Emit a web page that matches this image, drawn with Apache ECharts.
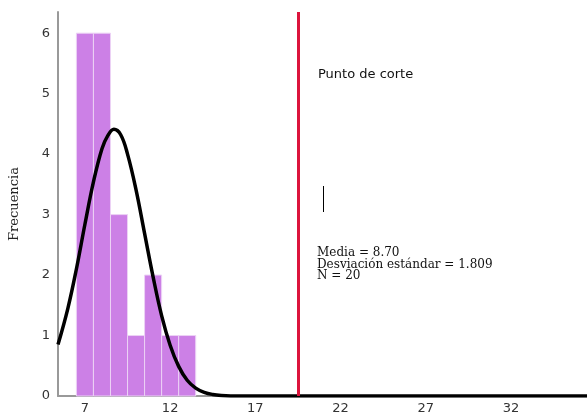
<!DOCTYPE html>
<html>
<head>
<meta charset="utf-8">
<script src="https://cdn.jsdelivr.net/npm/echarts@6/dist/echarts.min.js"></script>
<style>
html,body{margin:0;padding:0;background:#fff;}
#c{width:587px;height:419px;}
</style>
</head>
<body>
<div id="c"></div>
<script>
// Histogram bins (centres), bin width and counts
var binCenters = [7, 8, 9, 10, 11, 12, 13];
var binWidth = 1;
var counts = [6, 6, 3, 1, 2, 1, 1];
// Fitted normal curve
var curveX = [5.42, 6, 6.5, 7, 7.5, 8, 8.35, 8.7, 9.1, 9.5, 10, 10.5, 11, 11.5, 12, 12.5, 13, 13.5, 14, 14.5, 15, 16, 17, 20, 25, 30, 36.46];
var curveY = [0.85, 1.45, 2.10, 2.84, 3.54, 4.09, 4.31, 4.41, 4.32, 4.00, 3.41, 2.69, 1.97, 1.33, 0.84, 0.49, 0.26, 0.13, 0.06, 0.025, 0.01, 0, 0, 0, 0, 0, 0];
// Cut point
var cutPoint = 19.5;
// Axis ticks
var xTicks = [7, 12, 17, 22, 27, 32];
var yTicks = [0, 1, 2, 3, 4, 5, 6];
var xMin = 5.42, xMax = 36.46;
var yMax = 6.35;
var statsLines = ['Media = 8.70', 'Desviación estándar = 1.809', 'N = 20'];
var cutLabel = 'Punto de corte';
var yName = 'Frecuencia';

var histData = binCenters.map(function (c, i) { return [c, counts[i]]; });
var curveData = curveX.map(function (x, i) { return [x, curveY[i]]; });

var chart = echarts.init(document.getElementById('c'), null, {renderer: 'canvas'});
chart.setOption({
  animation: false,
  backgroundColor: '#fff',
  grid: {left: 58, right: 0, top: 12, bottom: 23, containLabel: false, outerBoundsMode: 'none'},
  xAxis: {
    type: 'value', min: xMin, max: xMax,
    axisLine: {show: true, lineStyle: {color: '#999', width: 2}},
    axisTick: {show: false},
    splitLine: {show: false},
    axisLabel: {
      customValues: xTicks,
      color: '#333', fontFamily: 'DejaVu Sans', fontSize: 13, margin: 6
    }
  },
  yAxis: {
    type: 'value', min: 0, max: yMax, interval: 1,
    name: yName, nameLocation: 'middle', nameGap: 37,
    nameTextStyle: {fontFamily: 'DejaVu Serif', fontSize: 13, color: '#222'},
    axisLine: {show: true, lineStyle: {color: '#999', width: 2}},
    axisTick: {show: false},
    splitLine: {show: false},
    axisLabel: {
      customValues: yTicks,
      color: '#333', fontFamily: 'DejaVu Sans', fontSize: 13, margin: 8
    }
  },
  series: [
    {
      type: 'custom',
      data: histData,
      z: 2,
      renderItem: function (params, api) {
        var c = api.value(0), v = api.value(1);
        var p0 = api.coord([c - binWidth / 2, v]);
        var p1 = api.coord([c + binWidth / 2, 0]);
        return {
          type: 'rect',
          shape: {x: p0[0], y: p0[1], width: p1[0] - p0[0], height: p1[1] - p0[1]},
          style: {fill: '#cc80e6', stroke: '#ecd2f5', lineWidth: 1}
        };
      }
    },
    {
      type: 'line',
      data: curveData,
      smooth: 0.4,
      symbol: 'none',
      z: 4,
      lineStyle: {color: '#000', width: 3.5},
      markLine: {
        silent: true,
        symbol: 'none',
        label: {show: false},
        lineStyle: {color: '#dc143c', width: 3, type: 'solid'},
        data: [{xAxis: cutPoint}]
      }
    }
  ],
  graphic: [
    {type: 'text', left: 318, top: 68, style: {text: cutLabel, fontFamily: 'DejaVu Sans', fontSize: 13, fill: '#111'}},
    {type: 'line', shape: {x1: 323.5, y1: 186, x2: 323.5, y2: 212}, style: {stroke: '#000', lineWidth: 1}},
    {type: 'text', left: 317, top: 247, style: {text: statsLines.join('\n'), fontFamily: 'DejaVu Serif', fontSize: 12, lineHeight: 11.5, fill: '#111'}}
  ]
});
</script>
</body>
</html>
